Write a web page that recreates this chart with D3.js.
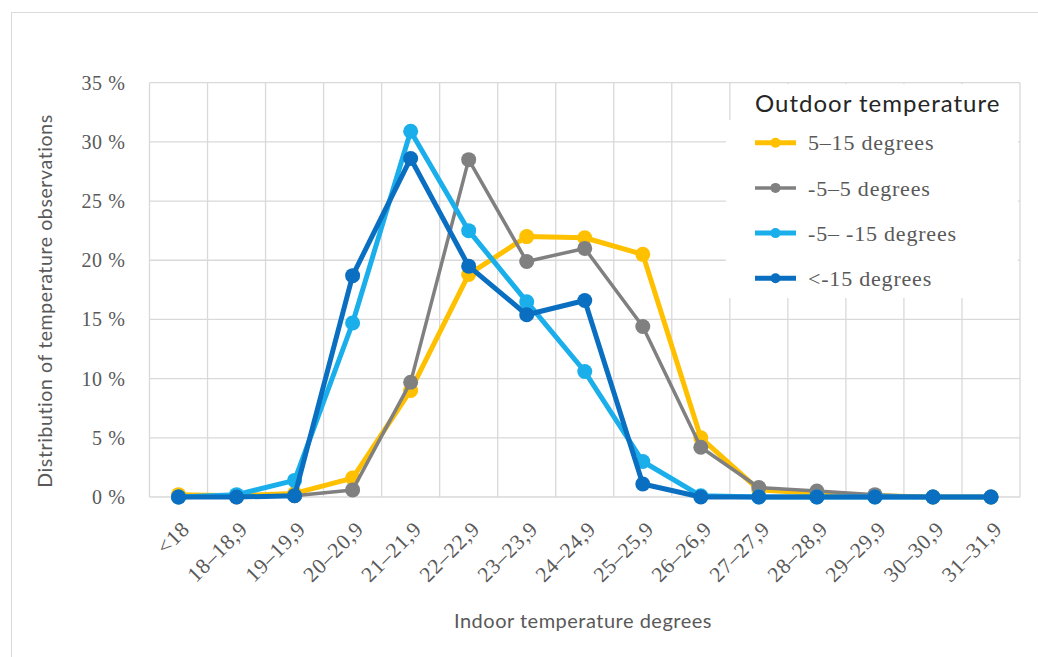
<!DOCTYPE html>
<html>
<head>
<meta charset="utf-8">
<script src="https://cdn.jsdelivr.net/npm/d3@7"></script>
<style>
  body { margin: 0; background: #fff; }
</style>
</head>
<body>
<div id="chart"></div>
<script>
const WIDTH = 1038, HEIGHT = 657;
const margin = {top: 82.7, right: 18, bottom: 160, left: 149.5};

// categories on the x axis (indoor temperature)
const categories = ["<18", "18–18,9", "19–19,9", "20–20,9", "21–21,9", "22–22,9", "23–23,9",
    "24–24,9", "25–25,9", "26–26,9", "27–27,9", "28–28,9", "29–29,9", "30–30,9", "31–31,9"];

// series values, % of observations
const warm = [0.2, 0.1, 0.3, 1.6, 9.0, 18.8, 22.0, 21.9, 20.5, 5.0, 0.6, 0.3, 0.1, 0, 0];
const mild = [0, 0, 0.1, 0.6, 9.7, 28.5, 19.9, 21.0, 14.4, 4.2, 0.8, 0.5, 0.2, 0, 0];
const cold = [0, 0.2, 1.4, 14.7, 30.9, 22.5, 16.5, 10.6, 3.0, 0.1, 0, 0, 0, 0, 0];
const coldest = [0, 0, 0.1, 18.7, 28.6, 19.5, 15.4, 16.6, 1.1, 0, 0, 0, 0, 0, 0];

const seriesNames = ["5–15 degrees", "-5–5 degrees", "-5– -15 degrees", "<-15 degrees"];
const yTicks = [0, 5, 10, 15, 20, 25, 30, 35];

const COLORS = ["#FFC000", "#808080", "#1AAFEB", "#0A6FC0"];
const WIDTHS = [5, 3.5, 5, 5];
const DOT_R = 7.5;
const SERIF = "Liberation Serif, serif";
const SANS = "Lato, sans-serif";

const series = [warm, mild, cold, coldest].map((vals, i) => ({
    name: seriesNames[i], color: COLORS[i], width: WIDTHS[i], values: vals
}));

const plotW = WIDTH - margin.left - margin.right;
const plotH = 497 - margin.top;

let svg = d3.select("#chart").append("svg")
    .attr("width", WIDTH)
    .attr("height", HEIGHT);

// light outer frame
svg.append("rect")
    .attr("x", 11.5).attr("y", 12.5)
    .attr("width", WIDTH).attr("height", HEIGHT)
    .attr("fill", "none").attr("stroke", "#d9d9d9");

let g = svg.append("g").attr("transform", `translate(${margin.left}, ${margin.top})`);

let x = d3.scaleBand().domain(categories).range([0, plotW]);
let y = d3.scaleLinear().domain([0, 35]).range([plotH, 0]);

// grid
g.append("g").selectAll("line").data(yTicks).enter().append("line")
    .attr("x1", 0).attr("x2", plotW)
    .attr("y1", d => y(d)).attr("y2", d => y(d))
    .attr("stroke", "#d9d9d9").attr("stroke-width", 1.3);
g.append("g").selectAll("line").data(d3.range(categories.length + 1)).enter().append("line")
    .attr("x1", d => d * x.bandwidth()).attr("x2", d => d * x.bandwidth())
    .attr("y1", 0).attr("y2", plotH)
    .attr("stroke", "#d9d9d9").attr("stroke-width", 1.3);

// y tick labels
g.append("g").selectAll("text").data(yTicks).enter().append("text")
    .attr("x", -24).attr("y", d => y(d))
    .attr("dy", "0.35em")
    .style("text-anchor", "end")
    .style("font-family", SERIF)
    .style("font-size", "20px")
    .style("letter-spacing", "0.6px")
    .style("fill", "#595959")
    .text(d => d + " %");

// x tick labels, rotated
g.append("g").selectAll("text").data(categories).enter().append("text")
    .attr("transform", d => `translate(${x(d) + x.bandwidth() / 2 + 7}, ${plotH + 28}) rotate(-45)`)
    .attr("dy", "0.35em")
    .style("text-anchor", "end")
    .style("font-family", SERIF)
    .style("font-size", "21.5px")
    .style("letter-spacing", "0.7px")
    .style("fill", "#595959")
    .text(d => d);

// lines + dots
let line = d3.line()
    .x((d, i) => x(categories[i]) + x.bandwidth() / 2)
    .y(d => y(d));

series.forEach(s => {
    g.append("path")
        .datum(s.values)
        .attr("d", line)
        .attr("fill", "none")
        .attr("stroke", s.color)
        .attr("stroke-width", s.width)
        .attr("stroke-linejoin", "round");
    g.selectAll(null).data(s.values).enter().append("circle")
        .attr("cx", (d, i) => x(categories[i]) + x.bandwidth() / 2)
        .attr("cy", d => y(d))
        .attr("r", DOT_R)
        .attr("fill", s.color);
});

// axis titles
svg.append("text")
    .attr("transform", `translate(52, 301) rotate(-90)`)
    .style("text-anchor", "middle")
    .style("font-family", SANS)
    .style("font-size", "19.5px")
    .style("letter-spacing", "0.6px")
    .style("fill", "#595959")
    .text("Distribution of temperature observations");
svg.append("text")
    .attr("x", 583).attr("y", 628)
    .style("text-anchor", "middle")
    .style("font-family", SANS)
    .style("font-size", "20px")
    .style("letter-spacing", "0.5px")
    .style("fill", "#595959")
    .text("Indoor temperature degrees");

// legend
let legend = svg.append("g");
legend.append("rect")
    .attr("x", 741).attr("y", 84).attr("width", 277).attr("height", 40).attr("fill", "#fff");
legend.append("rect")
    .attr("x", 726).attr("y", 120).attr("width", 292).attr("height", 178).attr("fill", "#fff");
legend.append("text")
    .attr("x", 755).attr("y", 112)
    .style("font-family", SANS)
    .style("font-size", "24px")
    .style("letter-spacing", "1px")
    .style("fill", "#262626")
    .text("Outdoor temperature");

series.forEach((s, i) => {
    let ly = 142.7 + i * 45.2;
    legend.append("line")
        .attr("x1", 755).attr("x2", 796)
        .attr("y1", ly).attr("y2", ly)
        .attr("stroke", s.color).attr("stroke-width", s.width);
    legend.append("circle")
        .attr("cx", 775.5).attr("cy", ly).attr("r", 5)
        .attr("fill", s.color);
    legend.append("text")
        .attr("x", 808).attr("y", ly)
        .attr("dy", "0.35em")
        .style("font-family", SERIF)
        .style("font-size", "22px")
        .style("letter-spacing", "0.8px")
        .style("fill", "#595959")
        .text(s.name);
});
</script>
</body>
</html>
